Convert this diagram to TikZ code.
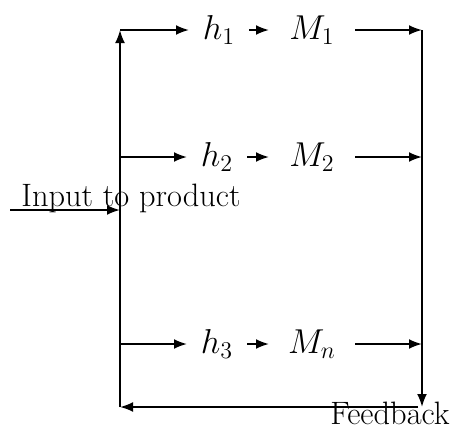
\documentclass[tikz,border=0pt]{standalone}
\usetikzlibrary{arrows.meta}
\begin{document}
\begin{tikzpicture}[x=0.5pt,y=-0.5pt,
  line width=1pt,
  arr/.style={-{Latex[length=6.5pt,width=5pt]}},
  hbox/.style={inner sep=0pt,minimum width=29pt,minimum height=14pt,font=\fontsize{16.5}{19}\selectfont},
  mbox/.style={inner sep=0pt,minimum width=42pt,minimum height=14pt,font=\fontsize{16.5}{19}\selectfont},
  lbl/.style={inner sep=0pt,font=\fontsize{16.2}{19}\selectfont}]
\useasboundingbox (0,0) rectangle (455,429);
% left column coordinates
\coordinate (L1) at (120,30);
\coordinate (L2) at (120,157);
\coordinate (L3) at (120,344);
\coordinate (LI) at (120,210);
\coordinate (Lb) at (120,407);
% right column coordinates
\coordinate (R1) at (422,30);
\coordinate (R2) at (422,157);
\coordinate (R3) at (422,344);
\coordinate (Rb) at (422,407);
\coordinate (Rf) at (418,407);
\coordinate (in) at (10,210);
% nodes
\node[hbox] (h1) at (219,30) {$h_1$};
\node[mbox] (M1) at (312,30) {$M_1$};
\node[hbox] (h2) at (217,157) {$h_2$};
\node[mbox] (M2) at (312,157) {$M_2$};
\node[hbox] (h3) at (217,344) {$h_3$};
\node[mbox] (M3) at (312,344) {$M_n$};
\node[lbl,anchor=base] (inlbl) at (131,206) {Input to product};
\node[lbl,anchor=base] (fb) at (390,424) {Feedback};
% connectors
\draw[arr] (Lb) -- (L1);
\draw[arr] (L1) -- (h1);
\draw[arr] (h1) -- (M1);
\draw[arr] (M1) -- (R1);
\draw[arr] (L2) -- (h2);
\draw[arr] (h2) -- (M2);
\draw[arr] (M2) -- (R2);
\draw[arr] (L3) -- (h3);
\draw[arr] (h3) -- (M3);
\draw[arr] (M3) -- (R3);
\draw[arr] (R1) -- (Rb);
\draw[arr] (Rf) -- (Lb);
\draw[arr] (in) -- (LI);
\end{tikzpicture}
\end{document}
